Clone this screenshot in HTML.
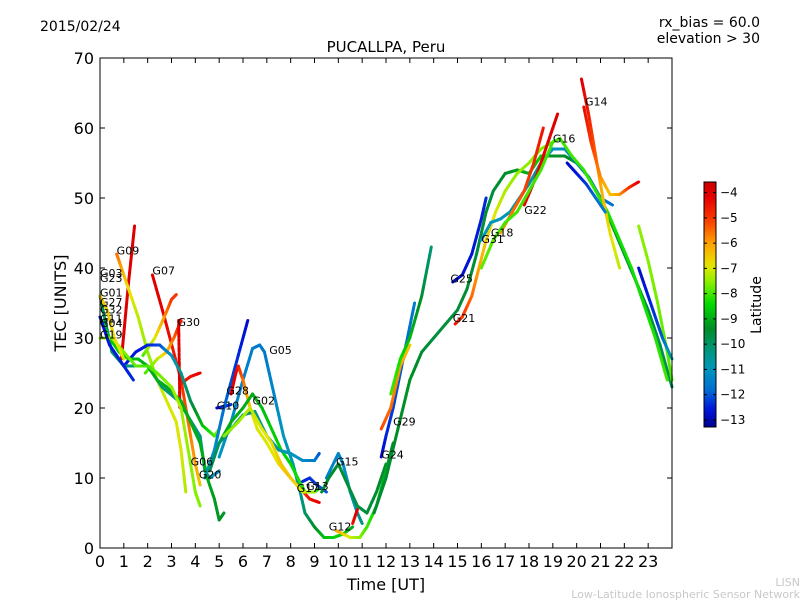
<!DOCTYPE html>
<html><head><meta charset="utf-8"><style>
body{margin:0;background:#fff;}
svg{display:block;font-family:"DejaVu Sans","Liberation Sans",sans-serif;}
</style></head><body>
<svg id="c" width="800" height="600" xmlns="http://www.w3.org/2000/svg">
<defs><linearGradient id="cbg" x1="0" y1="1" x2="0" y2="0"></linearGradient></defs>
<text x="40" y="31" font-size="14">2015/02/24</text>
<text x="760" y="27" font-size="14" text-anchor="end">rx_bias = 60.0</text>
<text x="760" y="43" font-size="14" text-anchor="end">elevation &gt; 30</text>
<text x="386" y="52" font-size="15" text-anchor="middle">PUCALLPA, Peru</text>
<text x="386" y="590" font-size="16" text-anchor="middle">Time [UT]</text>
<text x="66" y="303" font-size="16" text-anchor="middle" transform="rotate(-90 66 303)">TEC [UNITS]</text>
<text x="800" y="586" font-size="11" fill="#c8c8c8" text-anchor="end">LISN</text>
<text x="800" y="598" font-size="11" fill="#c8c8c8" text-anchor="end">Low-Latitude Ionospheric Sensor Network</text>
<g id="plot"></g>
<g id="axes"></g>
<g id="cbar"></g>
</svg>
<script>
const xTicks=[0,1,2,3,4,5,6,7,8,9,10,11,12,13,14,15,16,17,18,19,20,21,22,23];
const yTicks=[0,10,20,30,40,50,60,70];
const cbTicks=[-4,-5,-6,-7,-8,-9,-10,-11,-12,-13];
const trackNames=["G09a","G09","G07","t4","G30","G30d","t7","G10b","t9","G01","G19","G03","G10","t13b","G05","G28","G02","t17","t18","G15","G13","t21","G12","t23","G24","G29","t26","main","G21","G25","G31","G22","G18","G16","G14","G14b","t34","t35","t36","G32"];
const trackHours=[
[0.9,1.2,1.45],
[0.7,0.9,1.2,1.6,2.0,2.4,2.8,3.2,3.4,3.6],
[2.2,2.7,3.4,3.7,4.0,4.2],
[1.8,2.3,2.7,3.0,3.2],
[1.9,2.4,2.8,3.1,3.4],
[3.3,3.35],
[3.4,3.8,4.2],
[1.0,1.5,2.0,2.5,3.0,3.4,3.8,4.3,4.8,5.0],
[0,0.5,1.0,2.0,2.6,3.3,4.2,4.4,4.6,4.8,5.0],
[0,0.4,0.8,1.2,1.6,2.0,2.4,2.8,3.4,3.8,4.2,4.5,4.8,5.0,5.2],
[0,0.5,1.0,1.5,2.0,2.4,3.0,3.4,3.7,4.0,4.2],
[0,0.3,0.6,1.0],
[4.9,5.2,5.5],
[4.4,4.8,5.2,5.6,6.0,6.2],
[5.0,5.5,6.0,6.4,6.7,6.9,7.3,7.7,8.1,8.4,8.6,9.0,9.4,9.8,10.2,10.6],
[5.5,5.7,5.8,6.0,6.3,6.6,7.0,7.5,8.0,8.4,8.8,9.2],
[5.0,5.5,6.0,6.4,6.8,7.2,7.6,8.0,8.3,8.6,9.0,9.2],
[4.6,5.0,5.5,6.0,6.5,7.0,7.5,8.0,8.5,9.0,9.2],
[5.2,5.8,6.3,6.8,7.2,7.6,8.0,8.5,9.0],
[9.5,10.0,10.2,10.5,10.8,11.0],
[8.5,8.8,9.1,9.5],
[9.3,9.6,10.0,10.4,10.8,11.2,11.6,12.0],
[9.9,10.2,10.5,10.9,11.2,11.6,12.0,12.3],
[10.6,10.8],
[11.8,12.0,12.3,12.6,12.9,13.2],
[11.8,12.2,12.6,13.0],
[12.2,12.6,13.0,13.5,13.9],
[11.5,12,12.5,13,13.5,14,14.5,15,15.4,15.8,16.2,16.5,17,17.5,18,18.5,19,19.5,20,20.5,21,21.5,22,22.5,23,23.5,24],
[14.9,15.2,15.6,15.9,16.2,16.6,17,17.5,18,18.5,19],
[14.8,15.2,15.6,16.0,16.2],
[16.0,16.4,16.8,17.2,17.6,18.0,18.5,19.0,19.5,20.0,20.5,21.0,21.5],
[16.8,17.3,17.8,18.2,18.6],
[17.8,18.3,18.8,19.2],
[16.0,16.5,17.0,17.5,18.0,18.5,19.0,19.3,19.8,20.3,20.8,21.3,21.8,22.3,22.8,23.3,23.8],
[20.2,20.5,20.8,21.1,21.4,21.8],
[20.3,20.6,21.0,21.4,21.8,22.2,22.6],
[19.6,20.0,20.4,20.8,21.2],
[22.6,23.0,23.4,23.8,24.0],
[22.6,22.9,23.2,23.6,24.0],
[0,0.4,1.0,1.4]
];
const trackTec=[
[27,38,46],
[42,40,37,33,28,24,21,18,14,8],
[39,33,24,18,12,9],
[27.5,30,33,35.5,36.2],
[25,27,28,30,32.5],
[32.5,20],
[23.5,24.5,25],
[26,28,29,29,27.5,25,21,17.5,16,17],
[36,28,26,26,23,21,16,11,10,10.5,11],
[33,30,28,27,27,26,24,23,21,18,15,10,7,4,5],
[30,30,28,26,26,25,23,20,14,8,6],
[36,34,30,27],
[20,20.2,20.5],
[10,14,20,25,30,32.5],
[13,18,24,28.5,29,28,22,16,12,8,5,3,1.5,1.5,2,3],
[22,25,26,24,20,17,15,12,10,8.5,7,6.5],
[15,18,20,22,20,17,14,12,10,8,8,8.5],
[11,15,17,19,19.5,16,14,13.5,12.5,12.5,13.5],
[16,18,20,17,15,12,10,8,8],
[10,13.5,12,8,5,3.5],
[9.5,10,9,8],
[8,10,12,9,6,5,8,12],
[2.5,2,1.5,1.5,3,6,11,15],
[3.5,5.5],
[13,16,20,25,30,35],
[17,20,26,29],
[22,27,30,36,43],
[5,10,17,24,28,30,32,34,37,42,48,51,53.5,54,53.5,56,56,56,55,53,50,46,42,38,34,29,23],
[32,33,36,40,44,48,51,53.5,55,57,58],
[38,39,42,47,50],
[44,46.5,47,48,50,52,55,57,57,55,53,50,49],
[45,48,51,55,60],
[49,53,58,62],
[40,44,46.5,48,51,54,58,58.5,56,54,51,48,44,40,35,30,24],
[67,62,56,50,45,40],
[63,58,53,50.5,50.5,51.5,52.3],
[55,53.5,52,50,48],
[46,41,35,28,24],
[40,37,34,30,27],
[33,29,26,24]
];
const trackLat=[
[-4,-4],
[-5.5,-6,-6.8,-7.2,-7.5,-7.3,-7,-7,-7,-7.3],
[-4,-4.2,-4.8,-5.5,-6,-6.5],
[-8,-7,-6,-5,-5],
[-8,-7.3,-6.5,-5.5,-4.5],
[-4,-4],
[-4.5,-4.5,-4.2],
[-12.6,-12.6,-12.5,-12.2,-11,-10.5,-9.8,-8.8,-8,-7.5],
[-9.8,-10,-10.2,-10.3,-10.3,-10.3,-10.3,-10.5,-10.8,-11,-11.2],
[-8.5,-8.6,-8.6,-8.7,-8.8,-9,-9,-9,-9,-9,-9,-9,-9.2,-9.3,-9.3],
[-7.4,-7.5,-7.6,-7.8,-8,-7.8,-7.5,-7.3,-7.5,-7.6,-7.6],
[-6.5,-6.5,-6.8,-7],
[-12.8,-12.5,-12.2],
[-10.5,-11.2,-11.8,-12.2,-12.6,-12.8],
[-11,-11.2,-11.4,-11.5,-11.6,-11.6,-11.3,-11,-10.8,-10.5,-10,-9.5,-8.8,-8.5,-8.6,-9],
[-4,-4.2,-4.5,-5.5,-6.5,-7,-7,-6.8,-6,-5,-4.5,-4.2],
[-9,-9,-9,-9,-8.8,-8.6,-8.5,-8.5,-8.3,-8.2,-8.2,-8.2],
[-9.8,-10,-10,-10.2,-10.3,-10.5,-10.7,-11,-11.2,-11.5,-12],
[-7.5,-7.5,-7.2,-7,-6.8,-6.5,-6.5,-7,-7.5],
[-11.5,-11.3,-11.2,-11,-10.5,-10.3],
[-12.5,-12.4,-12.2,-12],
[-9.5,-9.5,-9.5,-9.6,-9.7,-9.6,-9.5,-9.5],
[-6,-6.5,-7,-7.5,-8,-8.5,-9,-9.5],
[-4.5,-4],
[-12.8,-12.5,-12.2,-12,-11.8,-11.5],
[-5.2,-5.5,-6,-6.5],
[-8,-8.3,-8.8,-9.5,-10.2],
[-9.5,-9.5,-9.4,-9.3,-9.5,-9.6,-9.6,-9.6,-9.5,-9.6,-9.5,-9.6,-9.4,-9.2,-9,-8.5,-9.3,-9.4,-9.3,-9.2,-9.3,-9.4,-9.5,-9.6,-9.7,-9.8,-9.8],
[-4.5,-5,-5.5,-6,-6.5,-7,-7.3,-7.5,-7.5,-7.6,-7.7],
[-12.8,-12.7,-12.6,-12.5,-12.4],
[-11,-11,-11,-10.8,-10.7,-10.7,-10.8,-11,-11.2,-11.5,-11.6,-11.6,-11.7],
[-6,-5.6,-5.2,-4.8,-4.5],
[-4.3,-4.2,-4.1,-4],
[-7.8,-7.9,-8,-8,-8,-8,-8,-8,-8,-8.1,-8.1,-8.2,-8.3,-8.3,-8.3,-8.2,-8],
[-4,-4.6,-5.5,-6.3,-6.8,-7.2],
[-4.3,-5,-5.8,-6.5,-6,-5,-4.2],
[-12.8,-12.6,-12.3,-11.8,-11.5],
[-7.5,-7.6,-7.7,-7.8,-7.9],
[-12.8,-12.6,-12.4,-12,-10.5],
[-12.6,-12.6,-12.5,-12.4]
];
const labelText=["G03","G23","G01","G27","G32","G11","G04","G19","G09","G07","G30","G28","G10","G02","G05","G06","G20","G17","G13","G15","G12","G24","G29","G21","G25","G31","G18","G22","G16","G14"];
const labelHour=[0.0,0.0,0.0,0.0,0.0,0.0,0.0,0.0,0.7,2.2,3.25,5.3,4.9,6.4,7.1,3.8,4.15,8.25,8.65,9.9,9.6,11.8,12.3,14.8,14.7,16.0,16.4,17.8,19.0,20.35];
const labelTec=[38.7,38.0,35.9,34.6,33.5,32.2,31.6,29.9,41.9,39.1,31.7,21.9,19.8,20.5,27.7,11.8,9.9,8.0,8.3,11.8,2.5,12.8,17.5,32.3,37.9,43.6,44.5,47.7,57.9,63.2];

const NS="http://www.w3.org/2000/svg";
const X0=100,X1=672,Y0=548,Y1=58;
function xs(h){return X0+(X1-X0)*h/24;}
function ys(v){return Y0-(Y0-Y1)*v/70;}
const stops=[[-13.3,[0,0,140]],[-12.6,[0,20,220]],[-11.8,[0,110,210]],[-11,[0,150,190]],[-10.2,[0,150,120]],[-9.4,[0,140,40]],[-8.4,[0,220,0]],[-7.6,[130,240,0]],[-6.9,[230,230,0]],[-6,[255,160,0]],[-5.1,[250,60,0]],[-4.2,[230,0,0]],[-3.5,[200,0,0]]];
function col(l){
  if(l<=stops[0][0])return "rgb("+stops[0][1]+")";
  for(let i=1;i<stops.length;i++){if(l<=stops[i][0]){const a=stops[i-1],b=stops[i],t=(l-a[0])/(b[0]-a[0]);
    const c=a[1].map((v,k)=>Math.round(v+(b[1][k]-v)*t));return "rgb("+c.join(",")+")";}}
  return "rgb("+stops[stops.length-1][1]+")";
}
const plot=document.getElementById('plot');
for(let t=0;t<trackHours.length;t++){
  const g=document.createElementNS(NS,'g');
  
  
  const H=trackHours[t],V=trackTec[t],L=trackLat[t];
  for(let i=0;i<H.length-1;i++){
    const sub=6;
    for(let s=0;s<sub;s++){
      const f0=s/sub,f1=(s+1)/sub;
      const h0=H[i]+(H[i+1]-H[i])*f0,h1=H[i]+(H[i+1]-H[i])*f1;
      const v0=V[i]+(V[i+1]-V[i])*f0,v1=V[i]+(V[i+1]-V[i])*f1;
      const fi=(i+(f0+f1)/2)/(H.length-1)*(L.length-1);
      const li=Math.min(Math.floor(fi),L.length-2),lf=fi-li;
      const lat=L.length>1?L[li]+(L[li+1]-L[li])*lf:L[0];
      const ln=document.createElementNS(NS,'line');
      ln.setAttribute('x1',xs(h0));ln.setAttribute('y1',ys(v0));
      ln.setAttribute('x2',xs(h1));ln.setAttribute('y2',ys(v1));
      ln.setAttribute('stroke',col(lat));ln.setAttribute('stroke-width','3');
      ln.setAttribute('stroke-linecap','round');
      if(trackNames[t]==="G30d")ln.setAttribute('stroke-dasharray','2 2');
      
      
      g.appendChild(ln);
    }
  }
  plot.appendChild(g);
}
for(let i=0;i<labelText.length;i++){
  const tx=document.createElementNS(NS,'text');
  tx.setAttribute('x',xs(labelHour[i]));tx.setAttribute('y',ys(labelTec[i]));
  tx.setAttribute('font-size','11');tx.textContent=labelText[i];
  
  
  plot.appendChild(tx);
}
const ax=document.getElementById('axes');
const fr=document.createElementNS(NS,'rect');
fr.setAttribute('x',X0);fr.setAttribute('y',Y1);fr.setAttribute('width',X1-X0);fr.setAttribute('height',Y0-Y1);
fr.setAttribute('fill','none');fr.setAttribute('stroke','#000');fr.setAttribute('stroke-width','1');


ax.appendChild(fr);
function tick(x1,y1,x2,y2,nm){const l=document.createElementNS(NS,'line');l.setAttribute('x1',x1);l.setAttribute('y1',y1);l.setAttribute('x2',x2);l.setAttribute('y2',y2);l.setAttribute('stroke','#000');


ax.appendChild(l);}
xTicks.forEach(h=>{const x=xs(h);tick(x,Y0,x,Y0-5,'x-tick');tick(x,Y1,x,Y1+5,'x-tick-top');
  const t=document.createElementNS(NS,'text');t.setAttribute('x',x);t.setAttribute('y',Y0+19);t.setAttribute('font-size','16');t.setAttribute('text-anchor','middle');t.textContent=h;
  
  
  ax.appendChild(t);});
yTicks.forEach(v=>{const y=ys(v);tick(X0,y,X0+5,y,'y-tick');tick(X1,y,X1-5,y,'y-tick-right');
  const t=document.createElementNS(NS,'text');t.setAttribute('x',X0-6);t.setAttribute('y',y+6);t.setAttribute('font-size','16');t.setAttribute('text-anchor','end');t.textContent=v;
  
  
  ax.appendChild(t);});
const CBX=704,CBW=12,CBT=182,CBB=427,CBMAX=-3.58,CBMIN=-13.28;
function cy(l){return CBB-(CBB-CBT)*(l-CBMIN)/(CBMAX-CBMIN);}
const grad=document.getElementById('cbg');
for(let i=0;i<=40;i++){const l=CBMIN+(CBMAX-CBMIN)*i/40;const s=document.createElementNS(NS,'stop');s.setAttribute('offset',(i/40));s.setAttribute('stop-color',col(l));grad.appendChild(s);}
const cb=document.getElementById('cbar');
const r=document.createElementNS(NS,'rect');
r.setAttribute('x',CBX);r.setAttribute('y',CBT);r.setAttribute('width',CBW);r.setAttribute('height',CBB-CBT);
r.setAttribute('fill','url(#cbg)');r.setAttribute('stroke','#000');


cb.appendChild(r);
cbTicks.forEach(l=>{const y=cy(l);
  const a=document.createElementNS(NS,'line');a.setAttribute('x1',CBX);a.setAttribute('x2',CBX+3);a.setAttribute('y1',y);a.setAttribute('y2',y);a.setAttribute('stroke','#000');
  
  
  cb.appendChild(a);
  const b=document.createElementNS(NS,'line');b.setAttribute('x1',CBX+CBW-3);b.setAttribute('x2',CBX+CBW);b.setAttribute('y1',y);b.setAttribute('y2',y);b.setAttribute('stroke','#000');
  
  
  cb.appendChild(b);
  const t=document.createElementNS(NS,'text');t.setAttribute('x',CBX+CBW+4);t.setAttribute('y',y+4);t.setAttribute('font-size','12');t.textContent='\u2212'+Math.abs(l);
  
  
  cb.appendChild(t);});
const ct=document.createElementNS(NS,'text');
ct.setAttribute('x',761);ct.setAttribute('y',305);ct.setAttribute('font-size','14');ct.setAttribute('text-anchor','middle');ct.setAttribute('transform','rotate(-90 761 305)');ct.textContent='Latitude';


cb.appendChild(ct);
</script>
</body></html>
